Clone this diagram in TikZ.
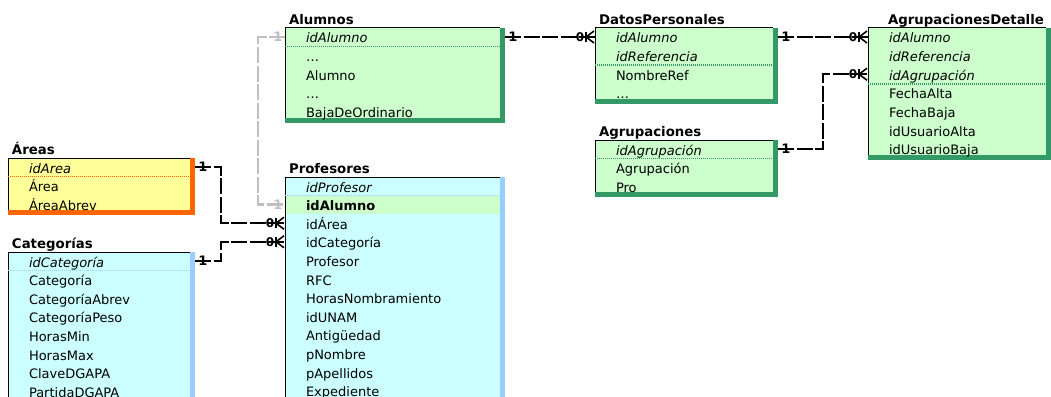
\documentclass[tikz,border=0pt]{standalone}
\usepackage{fontspec}
\setmainfont{DejaVu Sans}
\usetikzlibrary{calc}

\definecolor{grnfill}{HTML}{CCFFCC}
\definecolor{grnedge}{HTML}{339966}
\definecolor{yelfill}{HTML}{FFFF99}
\definecolor{yeledge}{HTML}{FF6600}
\definecolor{cyafill}{HTML}{CCFFFF}
\definecolor{cyaedge}{HTML}{99CCFF}
\definecolor{linkgray}{HTML}{C0C0C0}

\tikzset{
  every node/.style={inner sep=0pt,outer sep=0pt},
  rowtext/.style={anchor=base west,font=\fontsize{13}{15}\selectfont},
  titletext/.style={anchor=base west,font=\fontsize{13.3}{15}\selectfont\bfseries},
  link/.style={line width=2.4pt,dash pattern=on 16pt off 2.5pt},
  softlink/.style={link,draw=linkgray},
  onemark/.style={font=\fontsize{13}{15}\selectfont\bfseries},
  zeromark/.style={font=\fontsize{12}{14}\selectfont\bfseries},
  crow/.style={line width=1.6pt},
}

% horizontal offset of a table title from the table's left edge
\def\ttlx{4}

% table frame: #1 name, #2 left, #3 top, #4 width, #5 rows, #6 palette, #7 key rows, #8 title
\newcommand\tblframe[8]{%
  \node[fill=#6fill,minimum width=#4,minimum height={#5*18.6-3.5},anchor=north west] (#1) at (#2,#3) {};
  \fill[#6edge] (#1.north east) rectangle ++(5,#5*18.6+1.5);
  \fill[#6edge] (#1.south west) rectangle ++(#4+5,5);
  \draw[line width=1pt] (#1.south west) -- (#1.north west) -- (#1.north east);
  \draw[#6edge,line width=1.6pt,dash pattern=on 1pt off 1pt] ($(#1.north west)+(0,#7*18.6)$) -- ++(#4,0);
  \node[titletext] (#1-title) at ($(#1.north west)+(\ttlx,-3.5)$) {#8};
  \foreach \rw in {1,...,#5}{
    \coordinate (#1-\rw w) at ($(#1.north west)+(0,9+18.6*\rw-18.6)$);
    \coordinate (#1-\rw e) at ($(#1.north east)+(5,9+18.6*\rw-18.6)$);
  }%
}
% table rows: #1 name, #2 key rows, #3 row texts
\newcommand\tblrows[3]{%
  \foreach \txt [count=\rw] in {#3}{
    \node[rowtext] (#1-\rw) at ($(#1.north west)+(21,15+18.6*\rw-18.6)$)
      {\ifnum\rw>#2\relax\else\itshape\fi\txt};
  }%
}
% many end of a relationship at a table edge
\newcommand\manyend[2]{%
  \node[zeromark] (#1) at ([xshift=-15pt]#2) {0};
  \draw[crow] ([xshift=-9pt,yshift=-5pt]#2) -- ([xshift=-9pt,yshift=5pt]#2);
  \draw[crow] ([xshift=-1pt,yshift=-6pt]#2) -- ([xshift=-9pt]#2) -- ([xshift=-1pt,yshift=6pt]#2);
}

\begin{document}
\begin{tikzpicture}[x=1pt,y=-1pt]
  \useasboundingbox (0,0) rectangle (1051,396);
  \clip (0,0) rectangle (1051,396);
  \fill[white] (0,0) rectangle (1051,396);

  % tables
  \tblframe{Areas}{8}{158}{182}{3}{yel}{1}{Áreas}
  \tblrows{Areas}{1}{idArea,Área,ÁreaAbrev}

  \tblframe{Categorias}{8}{252}{182}{8}{cya}{1}{Categorías}
  \tblrows{Categorias}{1}{idCategoría,Categoría,CategoríaAbrev,CategoríaPeso,HorasMin,HorasMax,ClaveDGAPA,PartidaDGAPA}

  \tblframe{Alumnos}{285}{28}{215}{5}{grn}{1}{Alumnos}
  \tblrows{Alumnos}{1}{idAlumno,\dots,Alumno,\dots,BajaDeOrdinario}

  \tblframe{Profesores}{285}{177}{215}{12}{cya}{1}{Profesores}
  \fill[grnfill] ($(Profesores.north west)+(1,19)$) rectangle ++(214,17.5);
  \tblrows{Profesores}{1}{idProfesor,\textbf{idAlumno},idÁrea,idCategoría,Profesor,RFC,HorasNombramiento,idUNAM,Antigüedad,pNombre,pApellidos,Expediente}

  \tblframe{DatosPersonales}{595}{28}{178}{4}{grn}{2}{DatosPersonales}
  \tblrows{DatosPersonales}{2}{idAlumno,idReferencia,NombreRef,\dots}

  \tblframe{Agrupaciones}{595}{140}{178}{3}{grn}{1}{Agrupaciones}
  \tblrows{Agrupaciones}{1}{idAgrupación,Agrupación,Pro}

  \def\ttlx{20}
  \tblframe{AgrupacionesDetalle}{868}{28}{178}{7}{grn}{3}{AgrupacionesDetalle}
  \tblrows{AgrupacionesDetalle}{3}{idAlumno,idReferencia,idAgrupación,FechaAlta,FechaBaja,idUsuarioAlta,idUsuarioBaja}
  \def\ttlx{4}

  % relationships
  \draw[softlink] (Alumnos-1w) -- ++(-27,0) |- (Profesores-2w);
  \node[onemark,text=linkgray] (one-al-left) at ([xshift=-7pt]Alumnos-1w) {1};
  \node[onemark,text=linkgray] (one-pr-left) at ([xshift=-7pt]Profesores-2w) {1};

  \draw[link] (Areas-1e) -- ++(26,0) |- (Profesores-3w);
  \node[onemark] (one-ar) at ([xshift=8pt]Areas-1e) {1};
  \manyend{zero-pr-ar}{Profesores-3w}

  \draw[link] (Categorias-1e) -- ++(26,0) |- (Profesores-4w);
  \node[onemark] (one-ca) at ([xshift=8pt]Categorias-1e) {1};
  \manyend{zero-pr-ca}{Profesores-4w}

  \draw[link] (Alumnos-1e) -- (DatosPersonales-1w);
  \node[onemark] (one-al) at ([xshift=8pt]Alumnos-1e) {1};
  \manyend{zero-dp}{DatosPersonales-1w}

  \draw[link] (DatosPersonales-1e) -- (AgrupacionesDetalle-1w);
  \node[onemark] (one-dp) at ([xshift=8pt]DatosPersonales-1e) {1};
  \manyend{zero-ad-dp}{AgrupacionesDetalle-1w}

  \draw[link] (Agrupaciones-1e) -- ++(45,0) |- (AgrupacionesDetalle-3w);
  \node[onemark] (one-ag) at ([xshift=8pt]Agrupaciones-1e) {1};
  \manyend{zero-ad-ag}{AgrupacionesDetalle-3w}
\end{tikzpicture}
\end{document}
